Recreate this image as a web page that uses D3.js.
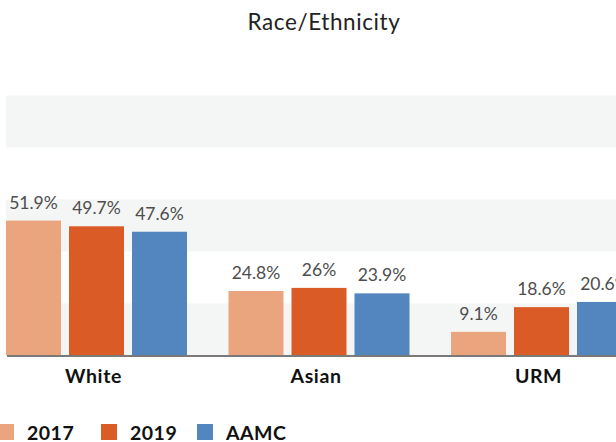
<!DOCTYPE html>
<html>
<head>
<meta charset="utf-8">
<script src="https://cdn.jsdelivr.net/npm/d3@7"></script>
<style>
  body { margin: 0; background: #fff; }
  svg { display: block; font-family: Lato, "Open Sans", sans-serif; }
</style>
</head>
<body>
<svg id="chart" width="616" height="442"></svg>
<script>
var categories = ["White", "Asian", "URM"];
var series = ["2017", "2019", "AAMC"];
var values2017 = [51.9, 24.8, 9.1];
var values2019 = [49.7, 26, 18.6];
var valuesAAMC = [47.6, 23.9, 20.6];
var bandEdges = [0, 20, 40, 60, 80, 100];
var colors = ["#eba57e", "#db5b27", "#5385be"];

var svg = d3.select("#chart");
var baseY = 355.5, topY = 95.5;

var y = d3.scaleLinear().domain([0, 100]).range([baseY, topY]);
// group step about 222.5px, first bar at about x=6
var step = 222.5, inner = 0.1865;
var x0 = d3.scaleBand().domain(categories)
    .range([6 - step * inner / 2, 6 - step * inner / 2 + 3 * step])
    .paddingInner(inner).paddingOuter(inner / 2);
var x1 = d3.scaleBand().domain(series).range([0, x0.bandwidth()])
    .paddingInner(0.127);
var color = d3.scaleOrdinal().domain(series).range(colors);

// shaded bands every other 20%
var bands = d3.pairs(bandEdges).filter(function (d, i) { return i % 2 === 0; });
svg.append("g").selectAll("rect").data(bands).join("rect")
    .attr("x", 6)
    .attr("width", 616)
    .attr("y", function (d) { return y(d[1]); })
    .attr("height", function (d) { return y(d[0]) - y(d[1]); })
    .attr("fill", "#f4f6f5");

svg.append("text")
    .attr("x", 324).attr("y", 29.5)
    .attr("text-anchor", "middle")
    .attr("font-size", 22.5)
    .attr("letter-spacing", 0.6)
    .attr("fill", "#222")
    .text("Race/Ethnicity");

var table = categories.map(function (c, i) {
    return {
        cat: c,
        vals: [
            {key: "2017", v: values2017[i]},
            {key: "2019", v: values2019[i]},
            {key: "AAMC", v: valuesAAMC[i]}
        ]
    };
});

var groups = svg.append("g").selectAll("g").data(table).join("g")
    .attr("transform", function (d) { return "translate(" + x0(d.cat) + ",0)"; });

groups.selectAll("rect").data(function (d) { return d.vals; }).join("rect")
    .attr("x", function (d) { return x1(d.key); })
    .attr("width", x1.bandwidth())
    .attr("y", function (d) { return y(d.v); })
    .attr("height", function (d) { return baseY - y(d.v); })
    .attr("fill", function (d) { return color(d.key); });

groups.selectAll("text").data(function (d) { return d.vals; }).join("text")
    .attr("x", function (d) { return x1(d.key) + x1.bandwidth() / 2; })
    .attr("y", function (d) { return y(d.v) - 12; })
    .attr("text-anchor", "middle")
    .attr("font-size", 17.5)
    .attr("fill", "#4d4d4d")
    .text(function (d) { return d.v + "%"; });

// baseline
svg.append("line")
    .attr("x1", 7).attr("x2", 616)
    .attr("y1", baseY + 0.5).attr("y2", baseY + 0.5)
    .attr("stroke", "#7a7a7a").attr("stroke-width", 2);

// category axis
var xAxis = d3.axisBottom(x0).tickSize(0).tickPadding(0);
var axisG = svg.append("g")
    .attr("transform", "translate(-3," + 383 + ")")
    .call(xAxis);
axisG.select(".domain").remove();
axisG.selectAll("text")
    .attr("dy", 0)
    .attr("font-family", "Lato, sans-serif")
    .attr("font-size", 19.5)
    .attr("letter-spacing", 0.6)
    .attr("font-weight", "bold")
    .attr("fill", "#111");

// legend
var legendX = [-2, 101, 197];
var legend = svg.append("g").selectAll("g").data(series).join("g")
    .attr("transform", function (d, i) { return "translate(" + legendX[i] + ",424)"; });
legend.append("rect")
    .attr("width", 16).attr("height", 16)
    .attr("fill", function (d) { return color(d); });
legend.append("text")
    .attr("x", 29).attr("y", 15.5)
    .attr("font-size", 19.5)
    .attr("letter-spacing", 0.5)
    .attr("font-weight", "bold")
    .attr("fill", "#111")
    .text(function (d) { return d; });
</script>
</body>
</html>
